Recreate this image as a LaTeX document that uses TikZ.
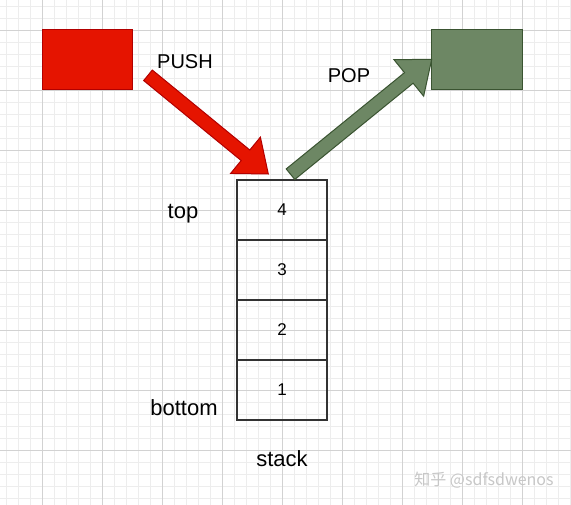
\documentclass[tikz,border=0pt]{standalone}
\usepackage{fontspec}
\setmainfont{Liberation Sans}
\newfontfamily\cjkfont{Noto Sans CJK SC}
\usetikzlibrary{positioning,calc}

\definecolor{pushred}{HTML}{E51400}
\definecolor{pushredline}{HTML}{B20000}
\definecolor{popgreen}{HTML}{6D8764}
\definecolor{popgreenline}{HTML}{3A5431}
\definecolor{gridmajor}{HTML}{D2D2D2}
\definecolor{gridminor}{HTML}{EDEDED}

\tikzset{
  cell/.style={draw=black!80, line width=1.4pt, minimum width=90pt, minimum height=60pt,
    outer sep=0pt, inner sep=0pt, font=\fontsize{17}{20}\selectfont},
  box/.style={minimum width=90pt, minimum height=60pt, line width=1pt, outer sep=0pt},
  lbl/.style={inner sep=0pt, anchor=base, font=\fontsize{20}{24}\selectfont},
  biglbl/.style={lbl, font=\fontsize{22}{26}\selectfont},
}

% block arrow: #1 style, #2 tail, #3 tip
\newcommand{\blockarrow}[3]{
  \coordinate (head) at ($(#3)!29.5pt!(#2)$);
  \draw[#1, line width=1pt, line join=miter]
    ($(#2)!6.8pt!90:(#3)$) -- ($(head)!6.8pt!-90:(#2)$) -- ($(head)!23.5pt!-90:(#2)$)
    -- (#3) -- ($(head)!23.5pt!90:(#2)$) -- ($(head)!6.8pt!90:(#2)$)
    -- ($(#2)!6.8pt!-90:(#3)$) -- cycle;
}

\begin{document}
\begin{tikzpicture}[x=1pt, y=-1pt]
    \useasboundingbox (0,0) rectangle (571,505);

    % Draw Grid
    \fill[white] (0,0) rectangle (571,505);
    \foreach \x in {6.7,18.7,...,571} \draw[gridminor, line width=0.8pt] (\x,0) -- (\x,505);
    \foreach \y in {6,18,...,505} \draw[gridminor, line width=0.8pt] (0,\y) -- (571,\y);
    \foreach \x in {42.7,102.7,...,571} \draw[gridmajor, line width=0.8pt] (\x,0) -- (\x,505);
    \foreach \y in {30,90,...,505} \draw[gridmajor, line width=0.8pt] (0,\y) -- (571,\y);

    % Draw Boxes
    \node[box, fill=pushred, draw=pushredline] (src) at (87,60) {};
    \node[box, fill=popgreen, draw=popgreenline, minimum width=91pt] (dst) at (477,60) {};

    % Draw Stack
    \node[cell] (c1) at (282,390) {1};
    \node[cell, above=0pt of c1] (c2) {2};
    \node[cell, above=0pt of c2] (c3) {3};
    \node[cell, above=0pt of c3] (c4) {4};

    % Draw Labels
    \node[lbl] (push) at (185,68.3) {PUSH};
    \node[lbl] (pop) at (349,82.7) {POP};
    \node[biglbl] (toplbl) at (183,218.3) {top};
    \node[biglbl] (bottomlbl) at (184,416) {bottom};
    \node[biglbl] (stacklbl) at (282,466.7) {stack};
    \node[font=\cjkfont\fontsize{16}{20}\selectfont, text=black!22] (mark) at (484,480) {知乎 @sdfsdwenos};

    % Draw Arrows
    \coordinate (pushtail) at (148,75.3);
    \coordinate (pushtip) at (268.3,174);
    \blockarrow{fill=pushred, draw=pushredline}{pushtail}{pushtip}
    \coordinate (poptail) at (290.5,174.2);
    \coordinate (poptip) at (431.7,59.3);
    \blockarrow{fill=popgreen, draw=popgreenline}{poptail}{poptip}
\end{tikzpicture}
\end{document}
